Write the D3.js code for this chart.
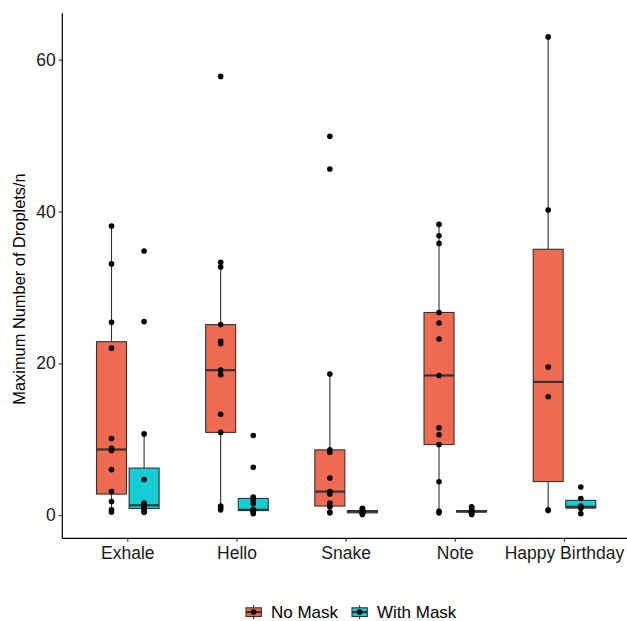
<!DOCTYPE html>
<html lang="en">
  <head>
    <meta charset="UTF-8" />
    <title>Maximum Number of Droplets</title>
    <script src="https://d3js.org/d3.v7.min.js"></script>
    <style>
      body { margin: 0; background: #fff; }
      .chart text { font-family: "Liberation Sans", Arial, sans-serif; }
    </style>
  </head>
  <body>
    <div class="chart"></div>
  </body>

  <script>
    // data
    var categories = ["Exhale", "Hello", "Snake", "Note", "Happy Birthday"];
    var groups = ["No Mask", "With Mask"];
    var colors = ["#EE6A50", "#17CDD4"];

    var noMask = [
      [0.4, 0.7, 1.8, 3.1, 6.0, 8.5, 8.8, 10.1, 22.0, 25.4, 33.1, 38.1],
      [0.7, 1.0, 1.2, 10.9, 13.3, 18.5, 19.1, 22.6, 22.9, 25.1, 32.7, 33.3, 57.8],
      [0.3, 0.4, 1.1, 1.2, 1.6, 2.8, 3.1, 4.9, 8.3, 8.6, 18.6, 45.6, 49.9],
      [0.3, 0.5, 4.4, 9.3, 10.6, 11.5, 18.4, 23.2, 25.3, 26.7, 35.8, 36.8, 38.3],
      [0.6, 0.7, 15.6, 19.5, 40.2, 63.0]
    ];
    var withMask = [
      [0.4, 0.4, 0.8, 0.9, 1.1, 1.2, 1.4, 1.6, 4.7, 10.7, 25.5, 34.8],
      [0.2, 0.4, 0.5, 0.6, 0.6, 0.7, 0.7, 1.5, 1.9, 2.2, 2.4, 6.3, 10.5],
      [0.1, 0.2, 0.3, 0.3, 0.4, 0.4, 0.5, 0.5, 0.6, 0.6, 0.7, 0.8, 0.9],
      [0.1, 0.2, 0.3, 0.4, 0.4, 0.5, 0.5, 0.5, 0.6, 0.6, 0.8, 1.0, 1.1],
      [0.2, 0.9, 1.0, 1.2, 2.2, 3.7]
    ];
    var yTicks = [0, 20, 40, 60];

    var W = 627, H = 621;
    var svg = d3.select(".chart").append("svg")
      .attr("width", W).attr("height", H);

    var panel = { left: 62.3, right: 630, top: 13, bottom: 538.3 };

    var x = d3.scaleBand().domain(categories)
      .range([panel.left, panel.right]).paddingOuter(0.1).paddingInner(0);
    var xg = d3.scaleBand().domain(groups)
      .range([-16.3 - 15, 16.3 + 15]).paddingInner(0.08).paddingOuter(0);
    var y = d3.scaleLinear().domain([-3.05, 66.15]).range([panel.bottom, panel.top]);

    function stats(v) {
      var s = v.slice().sort(d3.ascending);
      var q1 = d3.quantile(s, 0.25), med = d3.quantile(s, 0.5), q3 = d3.quantile(s, 0.75);
      var iqr = q3 - q1;
      var lo = d3.min(s.filter(function (d) { return d >= q1 - 1.5 * iqr; }));
      var hi = d3.max(s.filter(function (d) { return d <= q3 + 1.5 * iqr; }));
      return { q1: q1, med: med, q3: q3, lo: lo, hi: hi };
    }

    var boxes = [];
    categories.forEach(function (c, i) {
      [noMask[i], withMask[i]].forEach(function (vals, g) {
        boxes.push({ cat: c, group: groups[g], color: colors[g], values: vals, s: stats(vals) });
      });
    });

    function cx(d) {
      return x(d.cat) + x.bandwidth() / 2 + xg(d.group) + xg.bandwidth() / 2;
    }

    var bw = xg.bandwidth();
    var gBox = svg.append("g").selectAll("g").data(boxes).enter().append("g");

    gBox.append("line")
      .attr("x1", cx).attr("x2", cx)
      .attr("y1", function (d) { return y(d.s.hi); })
      .attr("y2", function (d) { return y(d.s.lo); })
      .attr("stroke", "#333").attr("stroke-width", 1.1);

    gBox.append("rect")
      .attr("x", function (d) { return cx(d) - bw / 2; })
      .attr("width", bw)
      .attr("y", function (d) { return y(d.s.q3); })
      .attr("height", function (d) { return y(d.s.q1) - y(d.s.q3); })
      .attr("fill", function (d) { return d.color; })
      .attr("stroke", "#333").attr("stroke-width", 1.1);

    gBox.append("line")
      .attr("x1", function (d) { return cx(d) - bw / 2; })
      .attr("x2", function (d) { return cx(d) + bw / 2; })
      .attr("y1", function (d) { return y(d.s.med); })
      .attr("y2", function (d) { return y(d.s.med); })
      .attr("stroke", "#333").attr("stroke-width", 2.2);

    gBox.each(function (d) {
      d3.select(this).selectAll("circle").data(d.values).enter().append("circle")
        .attr("cx", cx(d)).attr("cy", function (v) { return y(v); })
        .attr("r", 2.8).attr("fill", "#000");
    });

    // axes
    var yAxis = d3.axisLeft(y).tickValues(yTicks).tickSize(3.5).tickPadding(3);
    var gy = svg.append("g").attr("transform", "translate(" + panel.left + ",0)").call(yAxis);
    gy.select(".domain").attr("d", "M0," + panel.top + "V" + panel.bottom);

    var xAxis = d3.axisBottom(x).tickSize(3.5).tickPadding(4.5);
    var gx = svg.append("g").attr("transform", "translate(0," + panel.bottom + ")").call(xAxis);
    gx.select(".domain").attr("d", "M" + panel.left + ",0H" + panel.right);

    [gx, gy].forEach(function (g) {
      g.select(".domain").attr("stroke", "#000").attr("stroke-width", 1.2);
      g.selectAll(".tick line").attr("stroke", "#333").attr("stroke-width", 1.1);
      g.selectAll(".tick text").attr("fill", "#1a1a1a").style("font-size", "17.5px");
    });

    svg.append("text")
      .attr("transform", "translate(25,289) rotate(-90)")
      .attr("text-anchor", "middle")
      .style("font-size", "16.4px").attr("fill", "#000")
      .text("Maximum Number of Droplets/n");

    // legend
    var legend = svg.append("g").attr("transform", "translate(245,603.5)");
    var keyX = [0, 106];
    groups.forEach(function (g, i) {
      var k = legend.append("g").attr("transform", "translate(" + keyX[i] + ",0)");
      k.append("line").attr("x1", 8.6).attr("x2", 8.6).attr("y1", 1.7).attr("y2", 15.6)
        .attr("stroke", "#333").attr("stroke-width", 1.1);
      k.append("rect").attr("x", 1).attr("y", 4.3).attr("width", 15.3).attr("height", 8.7)
        .attr("fill", colors[i]).attr("stroke", "#333").attr("stroke-width", 1.1);
      k.append("line").attr("x1", 1).attr("x2", 16.3).attr("y1", 8.6).attr("y2", 8.6)
        .attr("stroke", "#333").attr("stroke-width", 2.2);
      k.append("circle").attr("cx", 8.6).attr("cy", 8.6).attr("r", 2.8).attr("fill", "#000");
      k.append("text").attr("x", 26).attr("y", 14)
        .style("font-size", "17px").attr("fill", "#000").text(g);
    });
  </script>
</html>
